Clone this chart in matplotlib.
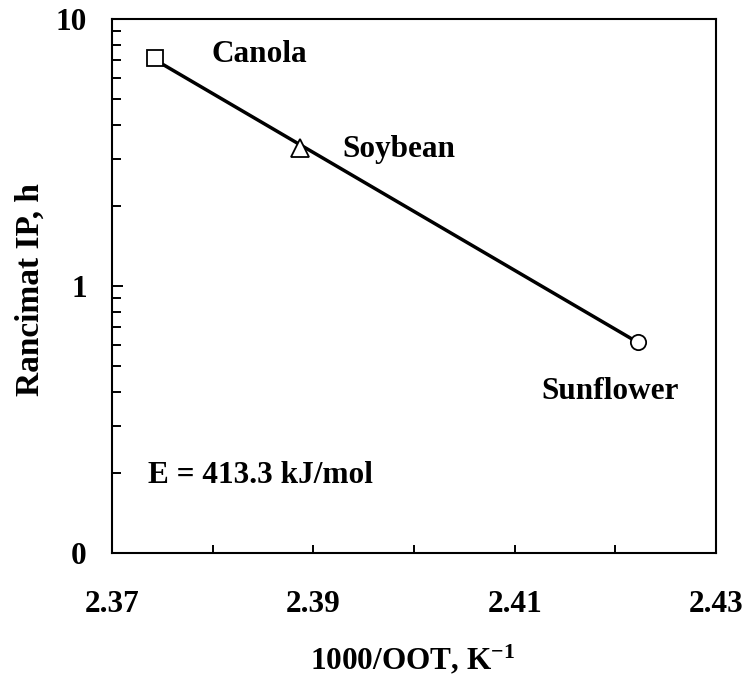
import numpy as np
import matplotlib
matplotlib.use("Agg")
import matplotlib.pyplot as plt
from matplotlib.ticker import FixedLocator, FixedFormatter, LogLocator, NullFormatter

plt.rcParams['font.family'] = ['Liberation Serif', 'DejaVu Serif']
plt.rcParams['font.weight'] = 'bold'
plt.rcParams['mathtext.fontset'] = 'custom'
plt.rcParams['mathtext.rm'] = 'Liberation Serif:bold'
plt.rcParams['mathtext.bf'] = 'Liberation Serif:bold'
plt.rcParams['mathtext.default'] = 'bf'

# Oils: inverse onset oxidation temperature vs Rancimat induction period
oils = ["Canola", "Soybean", "Sunflower"]
inv_oot = [2.3743, 2.3887, 2.4223]      # 1000/OOT, K^-1
rancimat_ip = [7.14, 3.30, 0.617]       # h
markers = ["s", "^", "o"]
energy_label = "E = 413.3 kJ/mol"

# label anchors (data coords, baseline)
label_x = [2.3846, 2.3985, 2.4195]
label_y = [6.90, 3.04, 0.377]

x_ticks = [2.37, 2.38, 2.39, 2.40, 2.41, 2.42, 2.43]
x_tick_labels = ["2.37", "", "2.39", "", "2.41", "", "2.43"]
y_ticks = [0.1, 1, 10]
y_tick_labels = ["0", "1", "10"]

fs = 22.5

fig = plt.figure(figsize=(7.51, 6.80), dpi=100)
ax = fig.add_axes([112 / 751, 1 - 553 / 680, 604 / 751, 534 / 680])

# exponential trend line (straight on the log axis)
x = np.array(inv_oot)
slope, icpt = np.polyfit(x, np.log(rancimat_ip), 1)
xf = np.array([x.min(), x.max()])
ax.plot(xf, np.exp(icpt + slope * xf), color="black", lw=2.5, zorder=2)

for xi, yi, m in zip(inv_oot, rancimat_ip, markers):
    ms = 13 if m == "^" else 11
    ax.plot(xi, yi, marker=m, ms=ms, mfc="white", mec="black", mew=1.3,
            ls="none", zorder=3)

for name, tx, ty in zip(oils, label_x, label_y):
    ax.text(tx, ty, name, ha="center", va="baseline", fontsize=fs,
            fontweight="bold")
ax.text(2.3736, 0.183, energy_label, ha="left", va="baseline", fontsize=fs,
        fontweight="bold")

ax.set_yscale("log")
ax.set_xlim(2.37, 2.43)
ax.set_ylim(0.1, 10)

ax.xaxis.set_major_locator(FixedLocator(x_ticks))
ax.xaxis.set_major_formatter(FixedFormatter(x_tick_labels))
ax.yaxis.set_major_locator(FixedLocator(y_ticks))
ax.yaxis.set_major_formatter(FixedFormatter(y_tick_labels))
ax.yaxis.set_minor_locator(LogLocator(base=10, subs=np.arange(2, 10)))
ax.yaxis.set_minor_formatter(NullFormatter())

ax.tick_params(axis="both", which="both", direction="in", top=False,
               right=False, width=1.4, labelsize=fs)
ax.tick_params(axis="x", which="major", length=6, pad=27)
ax.tick_params(axis="y", which="major", length=8, pad=18)
ax.tick_params(axis="y", which="minor", length=6.5)

for sp in ax.spines.values():
    sp.set_linewidth(1.5)

ax.set_xlabel(r"1000/OOT, K$^{-1}$", fontsize=fs, fontweight="bold", va="center")
ax.xaxis.set_label_coords(0.497, -0.200)
ax.set_ylabel("Rancimat IP, h", fontsize=fs + 1.5, fontweight="bold", va="center")
ax.yaxis.set_label_coords(-0.136, 0.4925)

fig.savefig("out.png", dpi=100)
